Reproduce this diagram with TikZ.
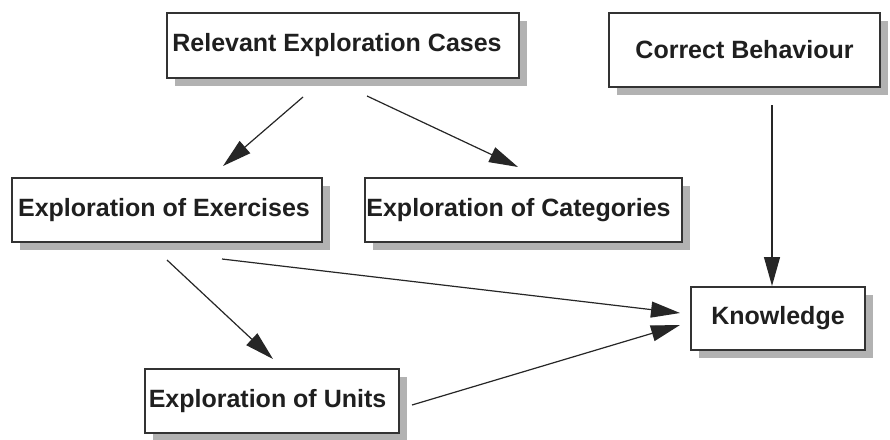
\documentclass[tikz,border=0pt]{standalone}
\usepackage{fontspec}
\setmainfont{Liberation Sans}
\usetikzlibrary{arrows.meta,shadows}
\newcommand{\txtleftby}[1]{\hspace*{-#1}}
\begin{document}
\begin{tikzpicture}[x=1pt,y=-1pt,
  box/.style={draw=black!80, line width=1.3pt, fill=white, inner sep=0pt,
    font=\fontsize{25}{29}\selectfont\bfseries, text=black!88,
    drop shadow={shadow xshift=8pt, shadow yshift=-8pt, fill=black!30, opacity=1}},
  arr/.style={draw=black!85, line width=1.2pt, -{Triangle[length=29pt,width=16pt]}}]
\useasboundingbox (0,0) rectangle (890,439);
\fill[white] (0,0) rectangle (890,439);
\node[box, minimum width=352pt, minimum height=65pt] (rel) at (343,45.5) {\txtleftby{12pt}Relevant Exploration Cases};
\node[box, minimum width=271pt, minimum height=74pt] (cb) at (744.5,50) {Correct Behaviour};
\node[box, minimum width=310pt, minimum height=64pt] (ex) at (167,210) {\txtleftby{6pt}Exploration of Exercises};
\node[box, minimum width=317pt, minimum height=64pt] (cat) at (523.5,210) {\txtleftby{10pt}Exploration of Categories};
\node[box, minimum width=174pt, minimum height=63pt] (kn) at (778,318.5) {Knowledge};
\node[box, minimum width=254pt, minimum height=64pt] (un) at (272,401) {\txtleftby{9pt}Exploration of Units};
\coordinate (s1) at (303,97);  \coordinate (e1) at (223,166);
\coordinate (s2) at (367,96);  \coordinate (e2) at (518,167);
\coordinate (s3) at (772,105); \coordinate (e3) at (772,286);
\coordinate (s4) at (167,260); \coordinate (e4) at (273,359);
\coordinate (s5) at (222,259); \coordinate (e5) at (680,313);
\coordinate (s6) at (412,405); \coordinate (e6) at (680,325);
\draw[arr] (s1) -- (e1);
\draw[arr] (s2) -- (e2);
\draw[arr] (s3) -- (e3);
\draw[arr] (s4) -- (e4);
\draw[arr] (s5) -- (e5);
\draw[arr] (s6) -- (e6);
\end{tikzpicture}
\end{document}
